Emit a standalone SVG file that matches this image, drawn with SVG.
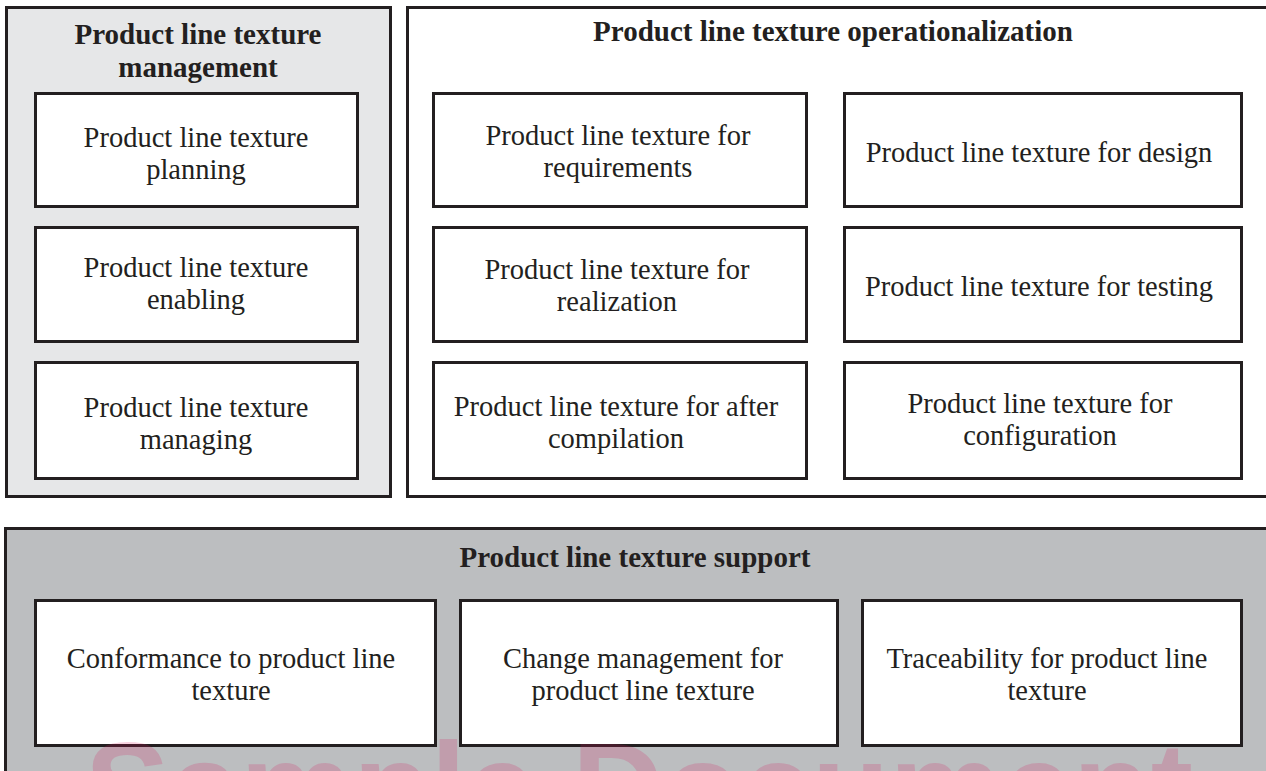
<svg xmlns="http://www.w3.org/2000/svg" width="1266" height="771" viewBox="0 0 1266 771">
<style>
.box{fill:#ffffff;stroke:#231f20;stroke-width:3}
.cont{stroke:#231f20;stroke-width:3}
.t{font-family:"Liberation Serif","Times New Roman",serif;font-size:28.5px;fill:#231f20;text-anchor:middle}
.h{font-family:"Liberation Serif","Times New Roman",serif;font-size:29px;font-weight:bold;fill:#231f20;text-anchor:middle}
.wm{font-family:"Liberation Sans",Arial,sans-serif;font-size:127px;font-weight:bold;fill:#d81b60;fill-opacity:0.2}
</style>
<rect width="1266" height="771" fill="#ffffff"/>
<g id="management">
<rect class="cont" x="6.5" y="7.5" width="384" height="489" fill="#e6e7e8"/>
<text class="h" x="198" y="44">Product line texture</text>
<text class="h" x="198" y="77">management</text>
</g>
<g id="planning">
<rect class="box" x="35.5" y="93.5" width="322" height="113"/>
<text class="t" x="196" y="147">Product line texture</text>
<text class="t" x="196" y="179">planning</text>
</g>
<g id="enabling">
<rect class="box" x="35.5" y="227.5" width="322" height="114"/>
<text class="t" x="196" y="277">Product line texture</text>
<text class="t" x="196" y="309">enabling</text>
</g>
<g id="managing">
<rect class="box" x="35.5" y="362.5" width="322" height="116"/>
<text class="t" x="196" y="417">Product line texture</text>
<text class="t" x="196" y="449">managing</text>
</g>
<g id="operationalization">
<rect class="cont" x="407.5" y="7.5" width="880" height="489" fill="#ffffff"/>
<text class="h" x="833" y="41">Product line texture operationalization</text>
</g>
<g id="requirements">
<rect class="box" x="433.5" y="93.5" width="373" height="113"/>
<text class="t" x="618" y="145">Product line texture for</text>
<text class="t" x="618" y="177">requirements</text>
</g>
<g id="design">
<rect class="box" x="844.5" y="93.5" width="397" height="113"/>
<text class="t" x="1039" y="162">Product line texture for design</text>
</g>
<g id="realization">
<rect class="box" x="433.5" y="227.5" width="373" height="114"/>
<text class="t" x="617" y="279">Product line texture for</text>
<text class="t" x="617" y="311">realization</text>
</g>
<g id="testing">
<rect class="box" x="844.5" y="227.5" width="397" height="114"/>
<text class="t" x="1039" y="296">Product line texture for testing</text>
</g>
<g id="after-compilation">
<rect class="box" x="433.5" y="362.5" width="373" height="116"/>
<text class="t" x="616" y="416">Product line texture for after</text>
<text class="t" x="616" y="448">compilation</text>
</g>
<g id="configuration">
<rect class="box" x="844.5" y="362.5" width="397" height="116"/>
<text class="t" x="1040" y="413">Product line texture for</text>
<text class="t" x="1040" y="445">configuration</text>
</g>
<g id="support">
<rect class="cont" x="5.5" y="528.5" width="1290" height="270" fill="#bcbec0"/>
<text class="h" x="635" y="567">Product line texture support</text>
</g>
<g id="conformance">
<rect class="box" x="35.5" y="600.5" width="400" height="145"/>
<text class="t" x="231" y="668">Conformance to product line</text>
<text class="t" x="231" y="700">texture</text>
</g>
<g id="change-management">
<rect class="box" x="460.5" y="600.5" width="377" height="145"/>
<text class="t" x="643" y="668">Change management for</text>
<text class="t" x="643" y="700">product line texture</text>
</g>
<g id="traceability">
<rect class="box" x="862.5" y="600.5" width="379" height="145"/>
<text class="t" x="1047" y="668">Traceability for product line</text>
<text class="t" x="1047" y="700">texture</text>
</g>
<g id="connectors"></g>
<text class="wm" x="85" y="831">Sample Document</text>
</svg>
